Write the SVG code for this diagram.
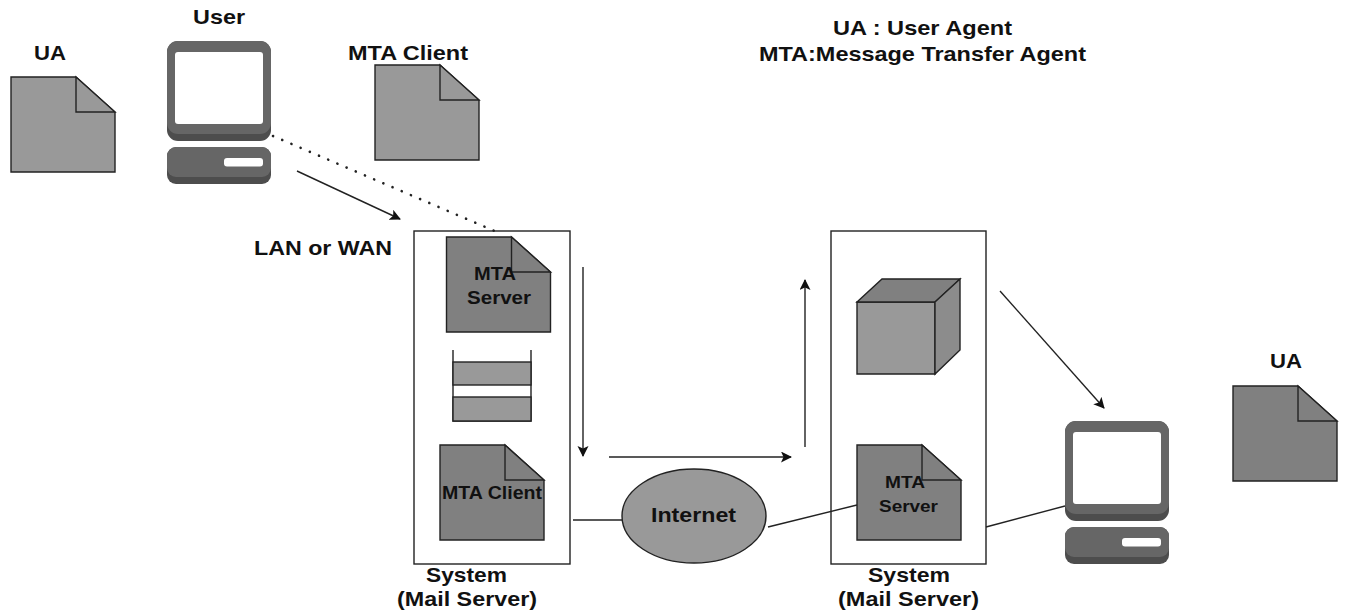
<svg xmlns="http://www.w3.org/2000/svg" width="1345" height="613" viewBox="0 0 1345 613">
<style>
text{font-family:"Liberation Sans",Arial,sans-serif;font-weight:bold;font-size:21px;fill:#111;text-anchor:middle}
.s{stroke:#222;stroke-width:1.4}
.c{stroke:#222;stroke-width:1.4;fill:none}
.sm{font-size:18.500px}
.xs{font-size:17px}
</style>
<defs>
<marker id="a" markerWidth="13" markerHeight="12" refX="10" refY="5.500" orient="auto" markerUnits="userSpaceOnUse"><path d="M0 0L11 5.500L0 11L2.500 5.500Z" fill="#111"/></marker>
<g id="doc"><path d="M0 0H65L104 35V95H0Z"/><path d="M65 0V35H104Z" fill-opacity=".9"/></g>
<g id="pc"><rect x="0" y="0" width="104" height="100" rx="11" fill="#4d4d4d"/><rect x="0" y="0" width="104" height="93" rx="11" fill="#666"/><rect x="8" y="11" width="88" height="72" rx="3" fill="#fff"/><rect x="0" y="106" width="104" height="37" rx="9" fill="#4d4d4d"/><rect x="0" y="106" width="104" height="30" rx="9" fill="#666"/><rect x="57" y="117" width="39" height="8.500" rx="3" fill="#fff"/></g>
</defs>
<rect width="1345" height="613" fill="#fff"/>
<g id="system-1">
<rect x="414" y="231" width="156" height="333" fill="#fff" class="s"/>
<text x="466.500" y="582" textLength="81" lengthAdjust="spacingAndGlyphs">System</text><text x="467" y="606" textLength="140" lengthAdjust="spacingAndGlyphs">(Mail Server)</text>
</g>
<g id="system-2">
<rect x="831" y="231" width="155" height="333" fill="#fff" class="s"/>
<text x="909" y="582" textLength="82" lengthAdjust="spacingAndGlyphs">System</text><text x="908.500" y="606" textLength="141" lengthAdjust="spacingAndGlyphs">(Mail Server)</text>
</g>
<g id="connectors">
<path class="c" d="M297 171L400 219" marker-end="url(#a)"/>
<path d="M273 136L497 232" fill="none" stroke="#222" stroke-width="2.600" stroke-linecap="round" stroke-dasharray="0.100 9.900"/>
<path class="c" d="M583 267V456" marker-end="url(#a)"/>
<path class="c" d="M609 457H791" marker-end="url(#a)"/>
<path class="c" d="M805 447V280" marker-end="url(#a)"/>
<path class="c" d="M1000 291L1104 408" marker-end="url(#a)"/>
<path class="c" d="M573 520H622"/>
<path class="c" d="M768 527L857 505"/>
<path class="c" d="M986 527L1065 506"/>
</g>
<g id="ua-left"><use href="#doc" x="11" y="77" fill="#999" class="s"/><text x="50" y="60" textLength="32" lengthAdjust="spacingAndGlyphs">UA</text></g>
<g id="user-pc"><use href="#pc" x="167" y="41"/><text x="219" y="23.500" textLength="52" lengthAdjust="spacingAndGlyphs">User</text></g>
<g id="mta-client-top"><use href="#doc" x="375" y="65" fill="#999" class="s"/><text x="408" y="59.500" textLength="120" lengthAdjust="spacingAndGlyphs">MTA Client</text></g>
<g id="legend"><text x="922.500" y="35" textLength="179" lengthAdjust="spacingAndGlyphs">UA : User Agent</text><text x="922.500" y="61" textLength="327" lengthAdjust="spacingAndGlyphs">MTA:Message Transfer Agent</text></g>
<g id="lan-label"><text x="323" y="255" textLength="138" lengthAdjust="spacingAndGlyphs">LAN or WAN</text></g>
<g id="mta-server-1"><use href="#doc" x="446.500" y="237" fill="#808080" class="s"/><text x="495" y="280" class="sm" textLength="42" lengthAdjust="spacingAndGlyphs">MTA</text><text x="499" y="304" class="sm" textLength="64" lengthAdjust="spacingAndGlyphs">Server</text></g>
<g id="queue"><path class="c" d="M453 350V421H531V350"/><rect x="453" y="362" width="78" height="23" fill="#999" class="s"/><rect x="453" y="397" width="78" height="24" fill="#999" class="s"/></g>
<g id="mta-client-1"><use href="#doc" x="440" y="445" fill="#808080" class="s"/><text x="492" y="499" class="sm" textLength="100" lengthAdjust="spacingAndGlyphs">MTA Client</text></g>
<g id="internet"><ellipse cx="694" cy="516" rx="72" ry="47" fill="#999" class="s"/><text x="693.500" y="522" textLength="85" lengthAdjust="spacingAndGlyphs">Internet</text></g>
<g id="cube"><path class="s" fill="#999" d="M857 302H935V374H857Z"/><path class="s" fill="#808080" d="M857 302L882 279H960L935 302Z"/><path class="s" fill="#8c8c8c" d="M935 302L960 279V350L935 374Z"/></g>
<g id="mta-server-2"><use href="#doc" x="857" y="445" fill="#808080" class="s"/><text x="905" y="488" class="xs" textLength="40" lengthAdjust="spacingAndGlyphs">MTA</text><text x="908.500" y="512" class="xs" textLength="59" lengthAdjust="spacingAndGlyphs">Server</text></g>
<g id="recipient-pc"><use href="#pc" x="1065" y="421"/></g>
<g id="ua-right"><use href="#doc" x="1233" y="386" fill="#808080" class="s"/><text x="1286" y="368" textLength="32" lengthAdjust="spacingAndGlyphs">UA</text></g>
</svg>
